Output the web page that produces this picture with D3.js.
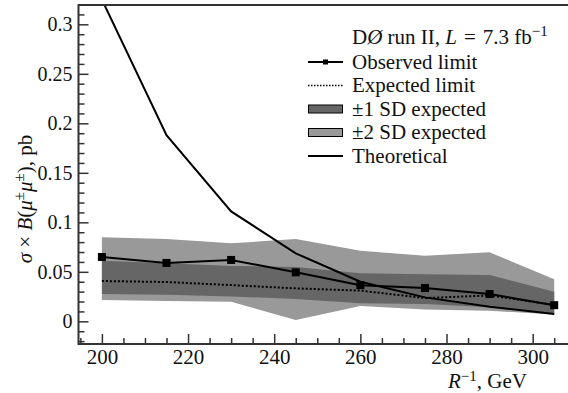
<!DOCTYPE html>
<html>
<head>
<meta charset="utf-8">
<script src="https://d3js.org/d3.v7.min.js"></script>
<style>
  body { margin: 0; background: #fff; }
  svg text { font-family: "Liberation Serif", "Times New Roman", "DejaVu Serif", serif !important; fill: #111; }
</style>
</head>
<body>
<svg id="graph"></svg>
<script>
// R^-1 values, GeV
var massPoints = [200, 215, 230, 245, 260, 275, 290, 305];
// limits, pb
var observedLimit = [0.065, 0.059, 0.062, 0.0495, 0.0365, 0.0336, 0.0276, 0.0163];
var expectedLimit = [0.0407, 0.0397, 0.0366, 0.0333, 0.031, 0.0235, 0.0262, 0.0165];
var oneSdHigh = [0.0612, 0.0586, 0.0559, 0.0549, 0.0485, 0.0475, 0.0468, 0.030];
var oneSdLow = [0.0276, 0.0269, 0.0252, 0.0225, 0.0182, 0.0175, 0.0141, 0.008];
var twoSdHigh = [0.0848, 0.0831, 0.0788, 0.0831, 0.0713, 0.0663, 0.0697, 0.0424];
var twoSdLow = [0.0215, 0.0205, 0.0198, 0.0013, 0.0155, 0.012, 0.0107, 0.007];
var theoretical = [0.325, 0.188, 0.111, 0.0687, 0.040, 0.0242, 0.0148, 0.0074];

var xTickValues = [200, 220, 240, 260, 280, 300];
var yTickValues = [0, 0.05, 0.1, 0.15, 0.2, 0.25, 0.3];

var outerWidth = 568, outerHeight = 393;
var plot = { left: 78.5, right: 568, top: 5, bottom: 344 };
var serif = '"Liberation Serif", "Times New Roman", serif';

var xScale = d3.scaleLinear().domain([194.57, 308.2]).range([plot.left, plot.right]);
var yScale = d3.scaleLinear().domain([-0.0229, 0.3195]).range([plot.bottom, plot.top]);

var svg = d3.select('svg#graph')
    .attr('width', outerWidth)
    .attr('height', outerHeight)
    .attr('font-family', serif);

svg.append('clipPath').attr('id', 'clip')
  .append('rect')
    .attr('x', plot.left).attr('y', plot.top)
    .attr('width', plot.right - plot.left).attr('height', plot.bottom - plot.top);

var rows = massPoints.map((r, i) => ({
  r: r, obs: observedLimit[i], exp: expectedLimit[i],
  lo1: oneSdLow[i], hi1: oneSdHigh[i], lo2: twoSdLow[i], hi2: twoSdHigh[i],
  th: theoretical[i]
}));

var inner = svg.append('g').attr('clip-path', 'url(#clip)');

// bands
var band = (lo, hi) => d3.area().x(d => xScale(d.r)).y0(d => yScale(d[lo])).y1(d => yScale(d[hi]));
inner.append('path').datum(rows).attr('d', band('lo2', 'hi2')).attr('fill', '#999999');
inner.append('path').datum(rows).attr('d', band('lo1', 'hi1')).attr('fill', '#666666');

// lines
var lineOf = key => d3.line().x(d => xScale(d.r)).y(d => yScale(d[key]));
inner.append('path').datum(rows).attr('d', lineOf('exp'))
    .attr('fill', 'none').attr('stroke', '#000').attr('stroke-width', 2).attr('stroke-dasharray', '2,2');
inner.append('path').datum(rows).attr('d', lineOf('th'))
    .attr('fill', 'none').attr('stroke', '#000').attr('stroke-width', 2);
inner.append('path').datum(rows).attr('d', lineOf('obs'))
    .attr('fill', 'none').attr('stroke', '#000').attr('stroke-width', 2);
inner.selectAll('rect.marker').data(rows).enter()
  .append('rect')
    .attr('class', 'marker')
    .attr('x', d => xScale(d.r) - 4).attr('y', d => yScale(d.obs) - 4)
    .attr('width', 8).attr('height', 8)
    .attr('fill', '#000');

// axes, ticks pointing inward
var axisColor = '#333';
function styleAxis(g) {
  g.attr('font-family', serif).attr('font-size', 21);
  g.select('.domain').remove();
  g.selectAll('.tick line').attr('stroke', axisColor).attr('stroke-width', 1.5);
  g.selectAll('.tick text').attr('fill', '#111');
}

var xMinor = d3.range(195, 309, 5).filter(v => v % 20 !== 0);
svg.append('g')
    .attr('transform', 'translate(0,' + plot.bottom + ')')
    .call(d3.axisBottom(xScale).tickValues(xMinor).tickSize(-6).tickFormat(''))
    .call(styleAxis);
svg.append('g')
    .attr('transform', 'translate(0,' + plot.bottom + ')')
    .call(d3.axisBottom(xScale).tickValues(xTickValues).tickSize(-10).tickPadding(5).tickFormat(d3.format('d')))
    .call(styleAxis);

var yMinor = d3.range(-2, 32).map(v => v / 100).filter(v => Math.round(v * 100) % 5 !== 0);
svg.append('g')
    .attr('transform', 'translate(' + plot.left + ',0)')
    .call(d3.axisLeft(yScale).tickValues(yMinor).tickSize(-6).tickFormat(''))
    .call(styleAxis);
svg.append('g')
    .attr('transform', 'translate(' + plot.left + ',0)')
    .call(d3.axisLeft(yScale).tickValues(yTickValues).tickSize(-10).tickPadding(6).tickFormat(d => d === 0 ? '0' : String(d)))
    .call(styleAxis)
    .call(g => g.attr('font-size', 20));

// frame: left, bottom, top
svg.append('path')
    .attr('d', 'M' + plot.right + ',' + plot.top + 'H' + plot.left + 'V' + plot.bottom + 'H' + plot.right)
    .attr('fill', 'none').attr('stroke', axisColor).attr('stroke-width', 2);

//X Axis Text
var xLabel = svg.append('text')
    .attr('x', 448).attr('y', 388)
    .attr('font-size', 21);
xLabel.append('tspan').style('font-style', 'italic').text('R');
xLabel.append('tspan').attr('dy', -7).attr('font-size', 15).text('\u22121');
xLabel.append('tspan').attr('dy', 7).text(', GeV');

//Y Axis Text
var yLabel = svg.append('text')
    .attr('transform', 'translate(32,199) rotate(-90)')
    .attr('text-anchor', 'middle')
    .attr('font-size', 21);
yLabel.append('tspan').style('font-style', 'italic').text('\u03c3');
yLabel.append('tspan').text(' \u00d7 ');
yLabel.append('tspan').style('font-style', 'italic').text('B');
yLabel.append('tspan').text('(');
yLabel.append('tspan').style('font-style', 'italic').text('\u03bc');
yLabel.append('tspan').attr('dy', -8).attr('font-size', 15).text('\u00b1');
yLabel.append('tspan').attr('dy', 8).style('font-style', 'italic').text('\u03bc');
yLabel.append('tspan').attr('dy', -8).attr('font-size', 15).text('\u00b1');
yLabel.append('tspan').attr('dy', 8).text('), pb');

// legend
var legX = 308, legTextX = 352;
var title = svg.append('text').attr('x', legTextX).attr('y', 44).attr('font-size', 21);
title.append('tspan').text('D');
title.append('tspan').style('font-style', 'italic').text('\u00d8');
title.append('tspan').text(' run II, ');
title.append('tspan').style('font-style', 'italic').text('L');
title.append('tspan').text('\u2004=\u20047.3 fb');
title.append('tspan').attr('dy', -8).attr('font-size', 15).text('\u22121');

var legendItems = [
  { label: 'Observed limit', kind: 'obs', y: 62 },
  { label: 'Expected limit', kind: 'exp', y: 85.5 },
  { label: '\u00b11 SD expected', kind: 'sd1', y: 109 },
  { label: '\u00b12 SD expected', kind: 'sd2', y: 132.5 },
  { label: 'Theoretical', kind: 'th', y: 156 }
];
legendItems.forEach(function (item) {
  if (item.kind === 'sd1' || item.kind === 'sd2') {
    svg.append('rect')
        .attr('x', legX + 0.5).attr('y', item.y - 4)
        .attr('width', 34).attr('height', 8)
        .attr('fill', item.kind === 'sd1' ? '#666666' : '#999999')
        .attr('stroke', '#000').attr('stroke-width', 1);
  } else {
    svg.append('line')
        .attr('x1', legX).attr('x2', legX + 35).attr('y1', item.y).attr('y2', item.y)
        .attr('stroke', '#000').attr('stroke-width', item.kind === 'exp' ? 1.5 : 2)
        .attr('stroke-dasharray', item.kind === 'exp' ? '1.5,1.5' : null);
    if (item.kind === 'obs') {
      svg.append('rect').attr('x', legX + 15).attr('y', item.y - 2.5)
          .attr('width', 5).attr('height', 5).attr('fill', '#000');
    }
  }
  svg.append('text')
      .attr('x', legTextX).attr('y', item.y + 6.5)
      .attr('font-size', 21)
      .text(item.label);
});
</script>
</body>
</html>
